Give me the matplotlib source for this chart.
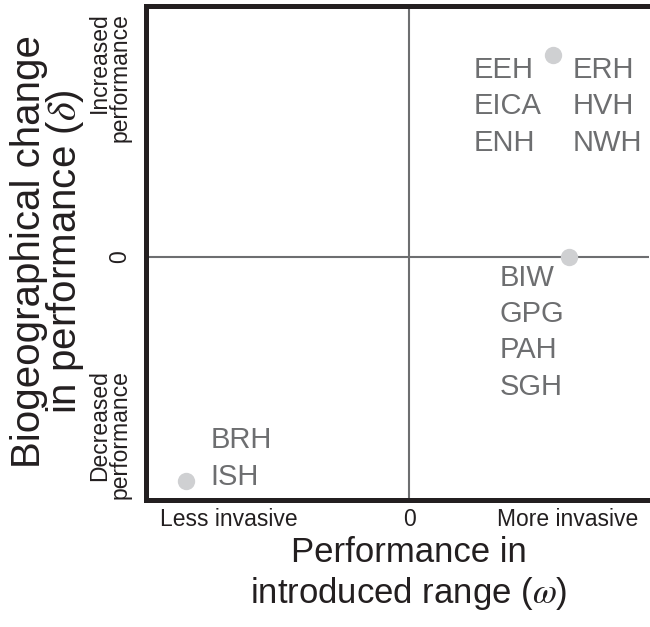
import matplotlib
matplotlib.use("Agg")
import matplotlib.pyplot as plt

plt.rcParams['font.family'] = ['Liberation Sans', 'DejaVu Sans']
plt.rcParams['mathtext.fontset'] = 'stix'

# Data: group positions (omega, delta) and their study labels
omega = [0.546, 0.607, -0.846]
delta = [0.831, 0.0, -0.922]
group_labels = [
    ["EEH", "EICA", "ENH"],
    ["ERH", "HVH", "NWH"],
    ["BIW", "GPG", "PAH", "SGH"],
    ["BRH", "ISH"],
]
xtick_labels = ["Less invasive", "0", "More invasive"]
ytick_labels = ["Decreased\nperformance", "0", "Increased\nperformance"]

W, H = 650, 627
fig = plt.figure(figsize=(W / 100, H / 100), dpi=100)
left_px, top_px, bot_px = 145.5, 6, 500
ax = fig.add_axes([left_px / W, 1 - bot_px / H, 1 - left_px / W + 0.001, (bot_px - top_px) / H])

x0_px = 409
xscale = x0_px - left_px
xmax = (W - x0_px) / xscale
ax.set_xlim(-1, xmax)
ymax = (257 - top_px) / (bot_px - 257)
ax.set_ylim(-1, ymax)

spine_col = '#231f20'
for s in ['left', 'top', 'bottom']:
    ax.spines[s].set_linewidth(3.6)
    ax.spines[s].set_color(spine_col)
ax.spines['right'].set_visible(False)

line_col = '#6d6e70'
ax.axvline(0, color=line_col, lw=1.5, zorder=1)
ax.plot([-1, 0.907], [0, 0], color=line_col, lw=1.5, zorder=1, solid_capstyle='butt')

ax.plot(omega, delta, 'o', ms=12.5, color='#cfd0d2', mec='none', zorder=3, clip_on=False)

txt_col = '#6d6e70'
fs = 21
def col(labels, x, ys):
    for lab, y in zip(labels, ys):
        ax.text(x, y, lab, ha='left', va='center', fontsize=fs, color=txt_col)

col(group_labels[0], 0.243, [0.77, 0.622, 0.47])
col(group_labels[1], 0.619, [0.77, 0.622, 0.47])
col(group_labels[2], 0.342, [-0.086, -0.235, -0.383, -0.535])
col(group_labels[3], -0.755, [-0.753, -0.905])

ax.set_xticks([-0.686, 0, 0.6])
ax.set_xticklabels(xtick_labels, fontsize=16.5, color=spine_col)
ax.set_yticks([-0.73, 0, 0.74])
ax.set_yticklabels(ytick_labels, fontsize=16.5, color=spine_col, rotation=90,
                   va='center', ha='right', linespacing=0.85)
ax.tick_params(axis='x', length=0, pad=6)
ax.tick_params(axis='y', length=0, pad=10)

fig.text(409 / W, 1 - 574 / H, "Performance in\nintroduced range ($\\omega$)", fontsize=25,
         color=spine_col, linespacing=1.22, ha='center', va='center')
fig.text(48 / W, 1 - 252 / H, "Biogeographical change\nin performance ($\\delta$)", fontsize=29,
         color=spine_col, linespacing=0.85, ha='center', va='center', rotation=90)

fig.savefig("out.png", dpi=100)
